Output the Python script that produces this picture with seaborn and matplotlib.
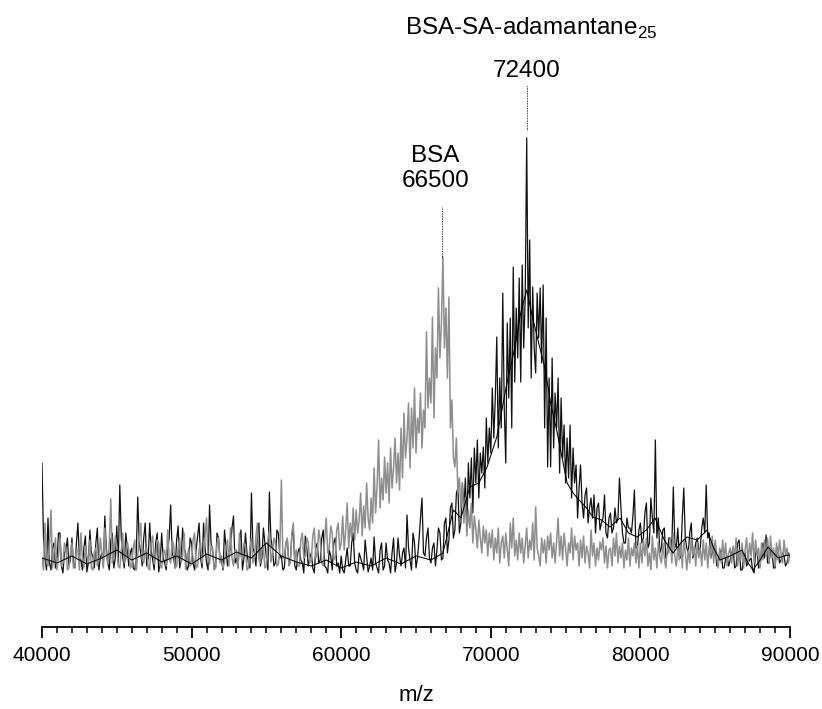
import numpy as np
import pandas as pd
import matplotlib
matplotlib.use("Agg")
import matplotlib.pyplot as plt
import seaborn as sns

# m/z sampling grid of both spectra (100 Da steps, 40000..90000)
mz = np.arange(40000, 90001, 100)

# BSA spectrum (grey), intensity in arbitrary units
bsa_int = [
    20, 8, 55, 15, 12, 30, 68, 10, 25, 40, 8, 22, 40, 12, 15, 35, 30, 8, 10, 25,
    35, 10, 12, 28, 28, 8, 45, 20, 10, 32, 22, 15, 38, 10, 8, 26, 30, 12, 18, 40,
    25, 10, 50, 22, 14, 35, 79, 15, 20, 42, 32, 12, 10, 28, 45, 15, 18, 36, 28, 10,
    12, 30, 38, 8, 22, 40, 55, 18, 15, 28, 30, 10, 8, 35, 42, 14, 20, 38, 35, 12,
    10, 25, 28, 12, 48, 20, 15, 38, 33, 10, 12, 30, 40, 15, 22, 45, 9, 18, 30, 12,
    18, 38, 45, 10, 12, 28, 35, 15, 25, 42, 60, 20, 14, 32, 30, 8, 10, 35, 40, 15,
    22, 10, 15, 32, 38, 12, 50, 20, 12, 28, 28, 10, 45, 22, 18, 35, 33, 8, 10, 30,
    40, 15, 20, 42, 55, 18, 15, 30, 30, 10, 12, 38, 48, 16, 25, 40, 35, 12, 14, 30,
    98, 20, 20, 35, 40, 12, 15, 45, 55, 18, 28, 12, 12, 38, 45, 20, 22, 40, 35, 15,
    18, 42, 50, 20, 25, 48, 38, 15, 12, 40, 60, 25, 30, 52, 45, 18, 20, 48, 55, 28,
    35, 62, 28, 48, 75, 30, 55, 40, 70, 38, 68, 45, 58, 85, 42, 72, 50, 95, 60, 48,
    80, 55, 110, 65, 92, 138, 70, 100, 78, 121, 85, 115, 75, 130, 90, 110, 140, 95, 125, 88,
    150, 100, 165, 120, 140, 175, 110, 170, 130, 190, 125, 160, 145, 185, 130, 168, 150, 246, 170, 200,
    175, 261, 160, 230, 200, 290, 220, 255, 321, 230, 270, 200, 281, 150, 178, 120, 111, 140, 85, 100,
    70, 95, 55, 80, 42, 68, 50, 75, 35, 62, 48, 30, 58, 40, 25, 52, 35, 48, 22, 45,
    30, 48, 18, 40, 25, 50, 15, 35, 42, 20, 45, 28, 12, 55, 30, 60, 22, 38, 18, 45,
    25, 40, 15, 32, 50, 20, 38, 28, 55, 18, 71, 30, 22, 12, 40, 25, 38, 15, 42, 28,
    45, 20, 35, 15, 38, 60, 22, 42, 18, 45, 30, 12, 35, 25, 50, 18, 42, 28, 35, 12,
    38, 20, 42, 15, 32, 25, 10, 48, 22, 35, 12, 30, 18, 36, 28, 40, 15, 32, 10, 28,
    30, 12, 40, 22, 45, 15, 32, 20, 35, 10, 28, 18, 40, 12, 30, 22, 35, 15, 32, 10,
    35, 15, 38, 22, 40, 12, 25, 8, 42, 18, 30, 10, 36, 22, 15, 35, 20, 10, 30, 25,
    40, 15, 45, 22, 12, 30, 18, 35, 10, 38, 25, 8, 28, 15, 40, 22, 32, 12, 35, 20,
    30, 12, 38, 18, 35, 10, 32, 20, 42, 15, 38, 22, 10, 30, 15, 38, 20, 35, 12, 25,
    30, 15, 32, 22, 40, 12, 28, 18, 35, 10, 28, 40, 15, 35, 22, 45, 15, 38, 22, 30,
    10, 35, 18, 38, 22, 40, 15, 42, 20, 30, 12, 35, 18, 38, 25, 15, 38, 22, 30, 15,
    25,
]

# BSA-SA-adamantane25 spectrum (black), raw trace
conj_int = [
    115, 40, 20, 8, 60, 15, 8, 30, 35, 10, 15, 45, 45, 12, 5, 25, 28, 40, 12, 18,
    40, 15, 10, 35, 55, 20, 18, 8, 30, 42, 6, 15, 48, 25, 22, 10, 35, 50, 8, 20,
    25, 12, 62, 30, 15, 8, 38, 45, 10, 20, 52, 15, 93, 40, 20, 10, 45, 30, 12, 25,
    30, 10, 8, 22, 81, 35, 25, 12, 40, 55, 12, 20, 55, 28, 18, 8, 35, 45, 6, 15,
    45, 20, 15, 8, 28, 40, 73, 25, 20, 10, 38, 52, 10, 18, 50, 30, 25, 8, 12, 40,
    35, 15, 8, 28, 42, 55, 20, 10, 55, 30, 15, 8, 73, 35, 28, 12, 10, 45, 40, 18,
    18, 8, 48, 30, 12, 22, 30, 50, 62, 15, 20, 10, 35, 48, 8, 20, 45, 25, 15, 10,
    85, 30, 25, 12, 40, 55, 12, 20, 50, 35, 20, 8, 86, 40, 30, 12, 15, 48, 45, 20,
    22, 8, 10, 35, 38, 15, 18, 42, 48, 12, 8, 25, 30, 18, 15, 5, 42, 30, 12, 20,
    25, 10, 5, 30, 35, 15, 18, 40, 48, 12, 10, 5, 28, 22, 8, 35, 40, 12, 15, 5,
    22, 8, 5, 18, 30, 12, 12, 35, 45, 15, 8, 5, 25, 20, 15, 8, 38, 22, 6, 12,
    20, 8, 41, 15, 10, 5, 28, 35, 8, 12, 35, 18, 15, 5, 25, 40, 6, 15, 40, 22,
    12, 25, 30, 10, 63, 30, 18, 8, 45, 35, 10, 20, 38, 60, 80, 25, 22, 40, 50, 20,
    15, 30, 35, 12, 28, 50, 45, 18, 20, 55, 60, 25, 38, 70, 75, 40, 48, 85, 90, 45,
    55, 95, 70, 100, 50, 115, 80, 120, 65, 130, 95, 138, 80, 125, 105, 131, 90, 160, 115, 150,
    125, 190, 140, 180, 241, 130, 200, 150, 285, 170, 115, 255, 180, 260, 150, 311, 196, 270, 220, 300,
    196, 313, 230, 280, 440, 250, 338, 200, 291, 230, 205, 285, 240, 290, 215, 293, 150, 260, 111, 200,
    111, 220, 130, 185, 150, 200, 105, 180, 120, 153, 95, 140, 100, 153, 80, 130, 95, 113, 60, 90,
    113, 75, 60, 83, 90, 55, 70, 80, 60, 83, 45, 70, 75, 48, 55, 60, 83, 45, 40, 60,
    65, 45, 50, 70, 55, 60, 100, 70, 45, 35, 35, 60, 50, 50, 45, 62, 88, 30, 30, 48,
    55, 35, 40, 65, 75, 30, 35, 80, 60, 45, 138, 40, 60, 25, 30, 48, 50, 20, 25, 40,
    40, 30, 91, 35, 30, 50, 22, 20, 60, 90, 40, 30, 25, 45, 55, 20, 25, 35, 40, 28,
    30, 50, 60, 45, 93, 40, 45, 20, 25, 30, 35, 12, 15, 25, 28, 10, 10, 20, 22, 12,
    18, 25, 30, 10, 12, 35, 38, 8, 8, 22, 25, 12, 15, 18, 20, 8, 5, 25, 28, 10,
    12, 28, 35, 20, 43, 15, 15, 28, 25, 10, 10, 30, 30, 15, 18, 25, 22, 12, 15, 25,
    20,
]

# smoothed trace of the conjugate spectrum
smooth_mz = [40000, 41000, 42000, 43000, 44000, 45000, 46000, 47000, 48000, 49000,
             50000, 51000, 52000, 53000, 54000, 55000, 56000, 57000, 58000, 59000,
             60000, 61000, 62000, 63000, 64000, 65000, 66000, 66800, 67500, 68000,
             68600, 69200, 69750, 70400, 71080, 71600, 72000, 72400, 72800, 73200,
             73600, 74000, 74400, 75100, 75500, 75900, 76400, 76830, 77400, 77970,
             78640, 79200, 79770, 80400, 80980, 81600, 82180, 82700, 83110, 83800,
             84450, 84900, 85320, 86000, 86790, 87200, 87530, 88000, 88530, 89200,
             89800, 90000]
smooth_int = [20, 15, 22, 14, 20, 28, 18, 25, 16, 22,
              14, 24, 18, 26, 20, 35, 22, 16, 12, 18,
              10, 16, 12, 20, 14, 22, 18, 25, 68, 60,
              91, 95, 111, 141, 195, 230, 265, 288, 260, 235,
              211, 175, 148, 95, 85, 78, 70, 61, 58, 51,
              60, 45, 41, 48, 60, 38, 25, 35, 41, 38,
              48, 30, 18, 22, 28, 15, 8, 18, 31, 20,
              23, 22]

# peak annotations
bsa_label = "BSA\n66500"
bsa_peak = 66750
conj_label = "BSA-SA-adamantane$_{\\mathregular{25}}$"
conj_mass = "72400"
conj_peak = 72420

sns.set_style("white")
plt.rcParams["font.family"] = ["Liberation Sans", "DejaVu Sans"]
plt.rcParams["mathtext.fontset"] = "custom"
plt.rcParams["mathtext.rm"] = "Liberation Sans"
plt.rcParams["text.color"] = "black"
plt.rcParams["axes.labelcolor"] = "black"
plt.rcParams["xtick.color"] = "black"

df_bsa = pd.DataFrame({"mz": mz, "intensity": bsa_int})
df_conj = pd.DataFrame({"mz": mz, "intensity": conj_int})
df_smooth = pd.DataFrame({"mz": smooth_mz, "intensity": smooth_int})

fig = plt.figure(figsize=(8.22, 7.09), dpi=100)
ax = fig.add_axes([42 / 822, 1 - 627 / 709, 748 / 822, 627 / 709])

sns.lineplot(data=df_conj, x="mz", y="intensity", color="#111111", lw=0.9, ax=ax)
sns.lineplot(data=df_bsa, x="mz", y="intensity", color="#8e8e8e", lw=1.1, ax=ax)
sns.lineplot(data=df_smooth, x="mz", y="intensity", color="black", lw=0.75, ax=ax)

ax.set_xlim(40000, 90000)
ax.set_ylim(-49, 578)

# dotted markers above the peaks
ax.plot([bsa_peak, bsa_peak], [320, 371], color="black", lw=0.6, ls=(0, (1, 1)))
ax.plot([conj_peak, conj_peak], [448, 493], color="black", lw=0.6, ls=(0, (1, 1)))

ax.text(bsa_peak - 450, 391, bsa_label, ha="center", va="baseline",
        fontsize=17.5, linespacing=1.2)
ax.text(conj_peak + 250, 543, conj_label, ha="center", va="baseline", fontsize=17.5)
ax.text(conj_peak - 50, 501, conj_mass, ha="center", va="baseline", fontsize=17.5)

for s in ["left", "top", "right"]:
    ax.spines[s].set_visible(False)
ax.spines["bottom"].set_linewidth(1.3)
ax.spines["bottom"].set_color("black")

ax.set_yticks([])
ax.set_xticks(np.arange(40000, 90001, 10000))
ax.set_xticks(np.arange(40000, 90001, 1000), minor=True)
ax.tick_params(axis="x", which="major", direction="out", length=8, width=1.3,
               labelsize=15, pad=6, bottom=True)
ax.tick_params(axis="x", which="minor", direction="out", length=4.5, width=1.1,
               bottom=True)
ax.set_xlabel("m/z", fontsize=16, labelpad=14)
ax.set_ylabel("")

fig.savefig("out.png", dpi=100)
